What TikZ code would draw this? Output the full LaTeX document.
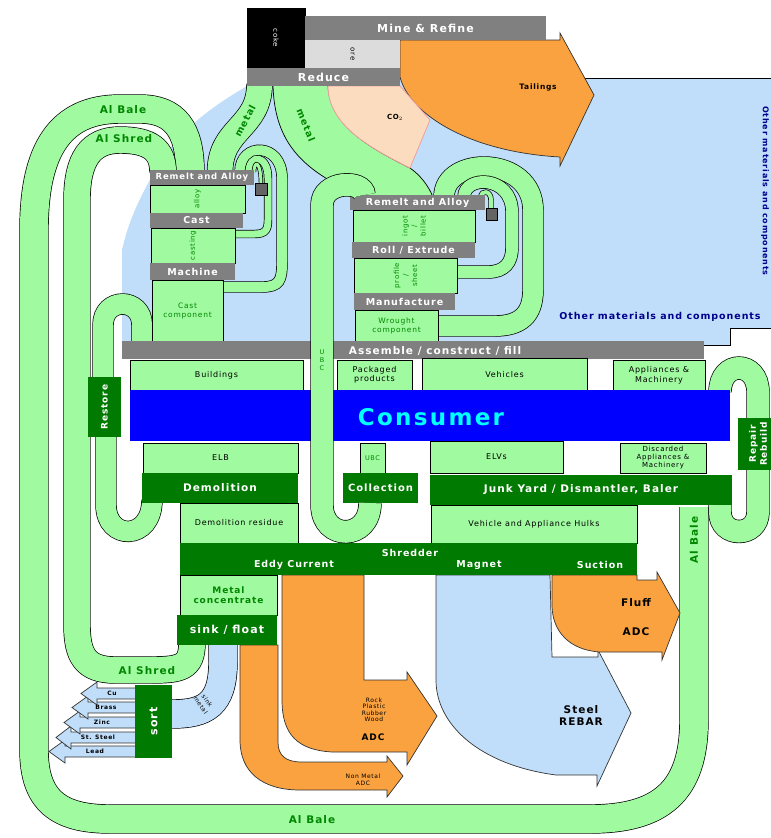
\documentclass[tikz,border=0pt]{standalone}
\usepackage{fontspec}
\setmainfont{DejaVu Sans}[LetterSpace=10]
\usetikzlibrary{positioning}

\definecolor{flowgreen}{RGB}{160,250,160}
\definecolor{darkbox}{RGB}{0,122,0}
\definecolor{bargrey}{RGB}{128,128,128}
\definecolor{oregrey}{RGB}{220,220,220}
\definecolor{sqgrey}{RGB}{100,100,100}
\definecolor{skyback}{RGB}{192,222,250}
\definecolor{tailorange}{RGB}{250,162,64}
\definecolor{copeach}{RGB}{252,220,190}
\definecolor{pinkline}{RGB}{240,160,160}
\definecolor{textgreen}{RGB}{0,135,0}
\definecolor{navytext}{RGB}{0,0,140}
\definecolor{consblue}{RGB}{0,0,255}
\definecolor{conscyan}{RGB}{0,255,255}

\newcommand{\fsz}[2]{\fontsize{#1}{#2}\selectfont}

\tikzset{
  flow/.style={draw=black, line width=0.7pt, double=flowgreen, double distance=#1},
  bluflow/.style={draw=black, line width=0.7pt, double=skyback, double distance=#1},
  flowfill/.style={fill=flowgreen, draw=black, line width=0.7pt},
  orout/.style={fill=tailorange, draw=black!80, line width=0.7pt},
  bluout/.style={fill=skyback, draw=black!80, line width=0.7pt},
  box/.style={anchor=north west, inner sep=0pt, outer sep=0pt, draw=black, line width=0.7pt, align=center},
  bar/.style={box, fill=bargrey, draw=none, text=white, font=\bfseries\fsz{9.5}{11}},
  bigbar/.style={bar, font=\bfseries\fsz{11}{13}},
  prod/.style={box, fill=flowgreen, font=\fsz{8}{9.5}},
  gbox/.style={box, fill=flowgreen, text=textgreen, font=\fsz{7.5}{9}},
  dbox/.style={box, fill=darkbox, draw=none, text=white, font=\bfseries\fsz{10.5}{12}},
  flowlbl/.style={text=textgreen, font=\bfseries\fsz{10.5}{12}},
  sortlbl/.style={font=\bfseries\fsz{6}{7}},
  adclbl/.style={font=\bfseries\fsz{10.5}{29}, align=center},
}

\begin{document}
\begin{tikzpicture}[x=1pt, y=-1pt]
\useasboundingbox (0,0) rectangle (771,838);

% other materials and components
\fill[skyback] (122,345) -- (122,250) .. controls (130,215) and (142,195) .. (155,170) .. controls (180,128) and (215,105) .. (247,86) -- (400,86) -- (400,78) -- (771,78) -- (771,328) -- (730,328) -- (730,345) -- cycle;
\draw[line width=0.7pt] (400,78) -- (771,78);
\draw[line width=0.7pt] (771,328) -- (730,328) -- (730,345) -- (704,345);

% Flows:
\draw[flow=28pt] (694,507) -- (694,720) .. controls (694,792) and (660,819) .. (590,819) -- (110,819) .. controls (58,819) and (34,800) .. (34,750) -- (34,230) .. controls (34,150) and (60,109) .. (120,109) -- (140,109) .. controls (175,109) and (190,130) .. (190,172);
\draw[flow=26pt] (192,643) .. controls (192,668) and (180,670) .. (150,670) -- (115,670) .. controls (85,670) and (77,655) .. (77,625) -- (77,200) .. controls (77,160) and (90,140) .. (120,140) .. controls (150,140) and (163,150) .. (163,172);
\draw[flow=20pt] (152,500) .. controls (152,541) and (106,541) .. (106,505) -- (106,435);
\draw[flow=20pt] (103,379) -- (103,325) .. controls (103,297) and (142,297) .. (142,325) -- (142,344);
\draw[flow=25pt] (259.5,84) .. controls (259.5,128) and (220,128) .. (220,172);
% home scrap, cast route
\draw[flow=10pt] (221,287) -- (262,287) .. controls (280,287) and (282,280) .. (282,262) -- (282,178) .. controls (282,142) and (240,142) .. (240,172);
\draw[flow=7pt] (233,234) -- (255,234) .. controls (266,234) and (268,229) .. (268,220) -- (268,178) .. controls (268,154) and (249,154) .. (249,172);
\draw[flow=3pt] (261,185) .. controls (261,160) and (254,160) .. (254,172);
% home scrap, wrought route
\draw[flow=20pt] (436,326) -- (495,326) .. controls (520,326) and (533,315) .. (533,290) -- (533,210) .. controls (533,155) and (444,155) .. (444,197);
\draw[flow=12pt] (455,272) -- (488,272) .. controls (505,272) and (512,262) .. (512,248) -- (512,212) .. controls (512,175) and (464,175) .. (464,197);
\draw[flow=4pt] (491,210) -- (491,200) .. controls (491,190) and (481,190) .. (481,197);
% repair
\draw[flow=22pt] (720,503) -- (720,512) .. controls (720,538) and (758,538) .. (758,512) -- (758,392) .. controls (758,360) and (720,360) .. (720,392);
\draw[bluflow=28pt] (223,643) -- (223,662) .. controls (223,705) and (205,714) .. (172,714);
\draw[flowfill] (273,84) .. controls (274,140) and (300,168) .. (352,192) -- (352,197) -- (433,197) .. controls (428,185) and (420,175) .. (410,168) .. controls (370,148) and (328,125) .. (328,84) -- cycle;

% Mine outputs
\draw[orout] (400,40) -- (560,40) -- (560,33) -- (594,95) -- (560,166) -- (560,157) .. controls (470,152) and (410,115) .. (400,77) -- cycle;
\draw[fill=copeach, draw=pinkline, line width=0.8pt] (328,86) -- (400,86) -- (430,120) -- (410,168) .. controls (370,148) and (328,125) .. (328,86) -- cycle;

% Shredder outputs
\draw[bluout] (436,575) -- (550,575) -- (552,657) -- (598,657) -- (598,650) -- (631,713) -- (597,786) -- (597,775) -- (556,775) .. controls (480,765) and (436,725) .. (436,680) -- cycle;
\draw[orout] (552,575) -- (637,575) -- (637,580) -- (657,580) -- (657,572) -- (680,613) -- (662,660) -- (662,652) -- (600,652) .. controls (568,650) and (552,630) .. (552,605) -- cycle;
\draw[orout] (282,575) -- (364,575) -- (364,680) -- (407,680) -- (407,672) -- (437,716) -- (407,765) -- (407,752) -- (332,752) .. controls (298,750) and (282,735) .. (282,700) -- cycle;
\draw[orout] (240,645) -- (278,645) -- (278,742) .. controls (278,756) and (286,762) .. (302,762) -- (387,762) -- (387,756) -- (403,776) -- (387,797) -- (387,790) -- (300,790) .. controls (262,790) and (240,772) .. (240,740) -- cycle;

% sorted metals
\draw[bluout] (137,746) -- (65,746) -- (65,740) -- (49,751.5) -- (65,763) -- (65,757) -- (137,757) -- cycle;
\draw[bluout] (137,732) -- (71,732) -- (71,726) -- (56,737.5) -- (71,749) -- (71,743) -- (137,743) -- cycle;
\draw[bluout] (137,717) -- (80,717) -- (80,711) -- (64,722.5) -- (80,734) -- (80,728) -- (137,728) -- cycle;
\draw[bluout] (137,702) -- (88,702) -- (88,696) -- (72,707.5) -- (88,719) -- (88,713) -- (137,713) -- cycle;
\draw[bluout] (137,688) -- (97,688) -- (97,682) -- (81,693.5) -- (97,705) -- (97,699) -- (137,699) -- cycle;
\node[sortlbl] (cu) at (112,693.5) {Cu};
\node[sortlbl] (brass) at (106,707.5) {Brass};
\node[sortlbl] (zinc) at (102,722.5) {Zinc};
\node[sortlbl] (ststeel) at (98,737.5) {St. Steel};
\node[sortlbl] (lead) at (95,751.5) {Lead};

% Mine & Refine, Reduce
\node[box, fill=black, minimum width=58pt, minimum height=60pt] (coke) at (247,8) {};
\node[rotate=-90, text=white, font=\fsz{7}{8}] (coketxt) at (coke.center) {coke};
\node[bigbar, minimum width=241pt, minimum height=24pt] (mine) at (305,16) {Mine \& Refine};
\node[box, fill=oregrey, draw=none, minimum width=95pt, minimum height=28pt] (ore) at (305,40) {};
\node[rotate=-90, font=\fsz{7}{8}] (oretxt) at (ore.center) {ore};
\node[bigbar, minimum width=153pt, minimum height=18pt] (reduce) at (247,68) {Reduce};

% cast route
\node[bar, font=\bfseries\fsz{8.5}{10}, minimum width=104pt, minimum height=15pt] (remeltL) at (150,170) {Remelt and Alloy};
\node[box, fill=sqgrey, minimum width=12pt, minimum height=12pt] (sqL) at (255,183) {};
\node[gbox, minimum width=95pt, minimum height=28pt] (alloy) at (150,185) {};
\node[rotate=90, text=textgreen, font=\fsz{7}{8}] (alloytxt) at (alloy.center) {alloy};
\node[bar, minimum width=93pt, minimum height=15pt] (cast) at (150,213) {Cast};
\node[gbox, minimum width=84pt, minimum height=35pt] (casting) at (151,228) {};
\node[rotate=90, text=textgreen, font=\fsz{7}{8}] (castingtxt) at (casting.center) {casting};
\node[bar, minimum width=85pt, minimum height=17pt] (machine) at (150,263) {Machine};
\node[gbox, minimum width=71pt, minimum height=62pt] (castcomp) at (152,280) {Cast\\component};

% wrought route
\node[bar, minimum width=135pt, minimum height=15pt] (remeltR) at (350,195) {Remelt and Alloy};
\node[box, fill=sqgrey, minimum width=11pt, minimum height=12pt] (sqR) at (486,208) {};
\node[gbox, minimum width=122pt, minimum height=32pt] (ingot) at (353,210) {};
\node[rotate=90, text=textgreen, font=\fsz{7}{9}, align=center] (ingottxt) at (ingot.center) {ingot\\/\\billet};
\node[bar, minimum width=123pt, minimum height=16pt] (roll) at (352,242) {Roll / Extrude};
\node[gbox, minimum width=103pt, minimum height=35pt] (profile) at (354,258) {};
\node[rotate=90, text=textgreen, font=\fsz{7}{9}, align=center] (profiletxt) at (profile.center) {profile\\/\\sheet};
\node[bar, minimum width=101pt, minimum height=17pt] (manufacture) at (354,293) {Manufacture};
\node[gbox, minimum width=83pt, minimum height=32pt] (wrought) at (355,310) {Wrought\\component};

% use phase
\node[bar, minimum width=582pt, minimum height=18pt] (assemble) at (122,341) {};
\node[text=white, font=\bfseries\fsz{10.5}{12}] (assembletxt) at (435,351) {Assemble / construct / fill};
\node[prod, minimum width=173pt, minimum height=30pt] (buildings) at (130,360) {Buildings};
\node[prod, minimum width=75pt, minimum height=30pt] (packaged) at (337,360) {Packaged\\products};
\node[prod, minimum width=165pt, minimum height=34pt] (vehicles) at (422,358) {Vehicles};
\node[prod, minimum width=92pt, minimum height=31pt] (appliances) at (613,360) {Appliances \&\\Machinery};
\node[box, fill=consblue, draw=none, minimum width=600pt, minimum height=51pt] (consumer) at (130,390) {};
\node[text=conscyan, font=\bfseries\fsz{23}{26}] (consumertxt) at (431,417) {Consumer};
\node[prod, minimum width=155pt, minimum height=30pt] (elb) at (143,443) {ELB};
\node[gbox, font=\fsz{6.5}{7.5}, minimum width=25pt, minimum height=30pt] (ubcbox) at (360,443) {UBC};
\node[prod, minimum width=133pt, minimum height=32pt] (elvs) at (430,441) {ELVs};
\node[prod, font=\fsz{7}{8}, minimum width=86pt, minimum height=30pt] (discarded) at (620,443) {Discarded\\Appliances \&\\Machinery};
\node[dbox, minimum width=156pt, minimum height=30pt] (demolition) at (142,473) {Demolition};
\node[dbox, font=\bfseries\fsz{10}{12}, minimum width=75pt, minimum height=30pt] (collection) at (343,473) {Collection};
\node[dbox, minimum width=302pt, minimum height=30pt] (junkyard) at (430,475) {Junk Yard / Dismantler, Baler};
\node[prod, minimum width=118pt, minimum height=40pt] (residue) at (180,503) {Demolition residue};
\node[prod, minimum width=206pt, minimum height=38pt] (hulks) at (431,505) {Vehicle and Appliance Hulks};
\node[dbox, minimum width=33pt, minimum height=60pt] (restore) at (88,377) {};
\node[rotate=90, text=white, font=\bfseries\fsz{9}{10}] (restoretxt) at (restore.center) {Restore};
\node[dbox, minimum width=40pt, minimum height=52pt] (repair) at (738,418) {};
\node[rotate=90, text=white, font=\bfseries\fsz{9}{11}, align=center] (repairtxt) at (repair.center) {Repair\\Rebuild};

% shredder
\node[dbox, minimum width=457pt, minimum height=32pt] (shredder) at (180,543) {};
\node[text=white, font=\bfseries\fsz{9.5}{11}] (shreddertxt) at (410,553) {Shredder};
\node[text=white, font=\bfseries\fsz{9.5}{11}] (eddy) at (294,565) {Eddy Current};
\node[text=white, font=\bfseries\fsz{9.5}{11}] (magnet) at (479,565) {Magnet};
\node[text=white, font=\bfseries\fsz{9.5}{11}] (suction) at (600,565) {Suction};
\node[gbox, font=\bfseries\fsz{9}{10.5}, minimum width=97pt, minimum height=40pt] (metalconc) at (180,575) {Metal\\concentrate};
\node[dbox, font=\bfseries\fsz{11}{13}, minimum width=100pt, minimum height=30pt] (sinkfloat) at (177,615) {sink / float};
\node[dbox, minimum width=37pt, minimum height=73pt] (sort) at (135,685) {};
\node[rotate=90, text=white, font=\bfseries\fsz{11}{13}] (sorttxt) at (sort.center) {sort};

% used beverage cans
\draw[flow=22pt] (370,503) .. controls (370,541) and (322,541) .. (322,505) -- (322,205) .. controls (322,180) and (364,180) .. (364,195);
\node[text=textgreen, font=\fsz{6.5}{8}, align=center] (ubcmark) at (322,360) {U\\B\\C};

% labels
\node[flowlbl] (albaletop) at (123,110) {Al Bale};
\node[flowlbl] (alshredtop) at (124,139) {Al Shred};
\node[flowlbl] (alshredbot) at (147,671) {Al Shred};
\node[flowlbl] (albalebot) at (312,820) {Al Bale};
\node[flowlbl, rotate=90] (albaleright) at (694,540) {Al Bale};
\node[flowlbl, font=\bfseries\fsz{9.5}{11}, rotate=62] (metalL) at (245,121) {metal};
\node[flowlbl, font=\bfseries\fsz{9.5}{11}, rotate=-68] (metalR) at (306,125) {metal};
\node[font=\bfseries\fsz{7.5}{9}] (tailings) at (538,87) {Tailings};
\node[font=\bfseries\fsz{7}{8}] (co2) at (395,117) {CO$_2$};
\node[text=navytext, font=\bfseries\fsz{9.5}{11}] (othermat) at (660,317) {Other materials and components};
\node[text=navytext, font=\bfseries\fsz{8}{10}, rotate=-90] (othermatv) at (765,191) {Other materials and components};
\node[rotate=-55, font=\fsz{6}{8}, align=center] (sinkmetal) at (204,703) {sink\\metal};
\node[font=\fsz{6}{6.5}, align=center] (rocktxt) at (374,710) {Rock\\Plastic\\Rubber\\Wood};
\node[font=\bfseries\fsz{9}{10}] (rockadc) at (373,737) {ADC};
\node[font=\fsz{6}{7}, align=center] (nonmetal) at (363,780) {Non Metal\\ADC};
\node[adclbl] (fluff) at (636,617) {Fluff\\ADC};
\node[adclbl, font=\bfseries\fsz{10.5}{12}] (rebar) at (581,716) {Steel\\REBAR};
\end{tikzpicture}
\end{document}
